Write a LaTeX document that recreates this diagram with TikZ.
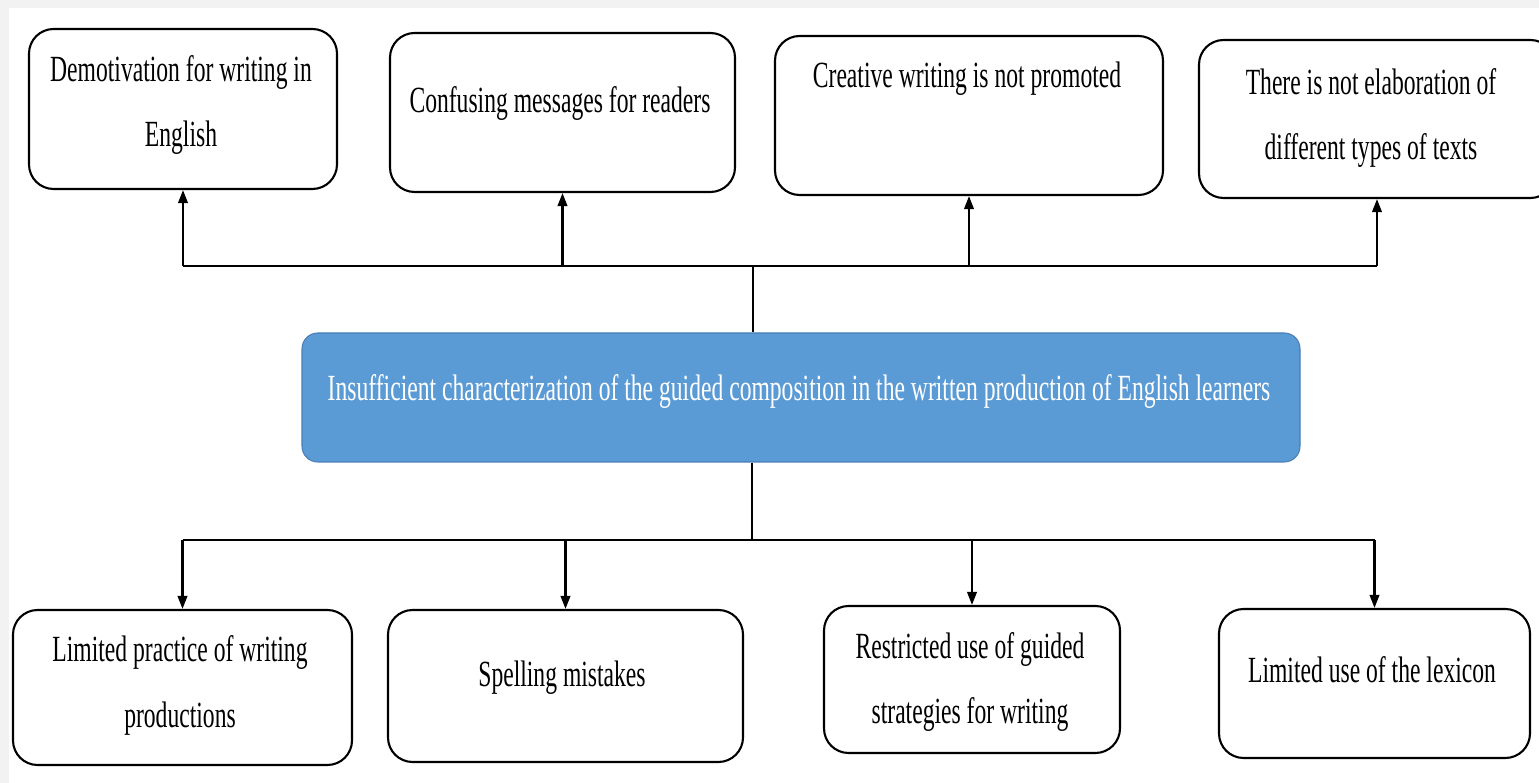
\documentclass[tikz,border=0pt]{standalone}
\usepackage{fontspec}
\setmainfont{Liberation Serif}[FakeStretch=0.64]
\usetikzlibrary{arrows.meta,fit}
\definecolor{problemblue}{HTML}{5B9BD5}
\definecolor{problemedge}{HTML}{4A7EB5}
\begin{document}
\begin{tikzpicture}[x=0.02cm,y=-0.02cm,
  effect/.style={draw, line width=1.2pt, rounded corners=14pt, inner sep=0pt},
  cause/.style={draw, line width=1.2pt, rounded corners=14pt, inner sep=0pt},
  problem/.style={draw=problemedge, fill=problemblue, line width=0.6pt, rounded corners=9pt, inner sep=0pt},
  txt/.style={anchor=base, align=center, inner sep=0pt, font=\fontsize{21}{37}\selectfont},
  link/.style={line width=1.2pt},
  arr/.style={link, -{Triangle[length=7.5pt,width=5.5pt]}}]
\fill[gray!10] (0,0) rectangle (1539,783);
\fill[white] (9,8) rectangle (1539,783);
\useasboundingbox (0,0) rectangle (1539,783);
% effects (top row)
\node[effect, fit={(29,29) (337,189)}] (eff1) {};
\node[effect, fit={(390,33) (735,192)}] (eff2) {};
\node[effect, fit={(775,36) (1163,195)}] (eff3) {};
\node[effect, fit={(1199,40) (1555,198)}] (eff4) {};
\node[txt] (eff1txt) at (181,147) {Demotivation for writing in\\English};
\node[txt] (eff2txt) at (560,113) {Confusing messages for readers};
\node[txt] (eff3txt) at (967,88) {Creative writing is not promoted};
\node[txt] (eff4txt) at (1371,160) {There is not elaboration of\\different types of texts};
% central problem
\node[problem, fit={(302,333) (1300,462)}] (core) {};
\node[txt, text=white] (coretxt) at (799,401) {Insufficient characterization of the guided composition in the written production of English learners};
% causes (bottom row)
\node[cause, fit={(13,610) (352,765)}] (cau1) {};
\node[cause, fit={(388,610) (743,762)}] (cau2) {};
\node[cause, fit={(824,606) (1120,753)}] (cau3) {};
\node[cause, fit={(1219,609) (1530,758)}] (cau4) {};
\node[txt] (cau1txt) at (180,727) {Limited practice of writing\\productions};
\node[txt] (cau2txt) at (562,686) {Spelling mistakes};
\node[txt] (cau3txt) at (970,724) {Restricted use of guided\\strategies for writing};
\node[txt] (cau4txt) at (1372,683) {Limited use of the lexicon};
% connectors
\coordinate (topbus) at (753,266);
\coordinate (botbus) at (752,540);
\draw[link] (core.north -| topbus) -- (topbus);
\draw[link] (topbus -| eff1.south) -- (topbus -| eff4.south);
\foreach \n in {1,...,4}
  \draw[arr] (topbus -| eff\n.south) -- (eff\n.south);
\draw[link] (core.south -| botbus) -- (botbus);
\draw[link] (botbus -| cau1.north) -- (botbus -| cau4.north);
\foreach \n in {1,...,4}
  \draw[arr] (botbus -| cau\n.north) -- (cau\n.north);
\end{tikzpicture}
\end{document}
